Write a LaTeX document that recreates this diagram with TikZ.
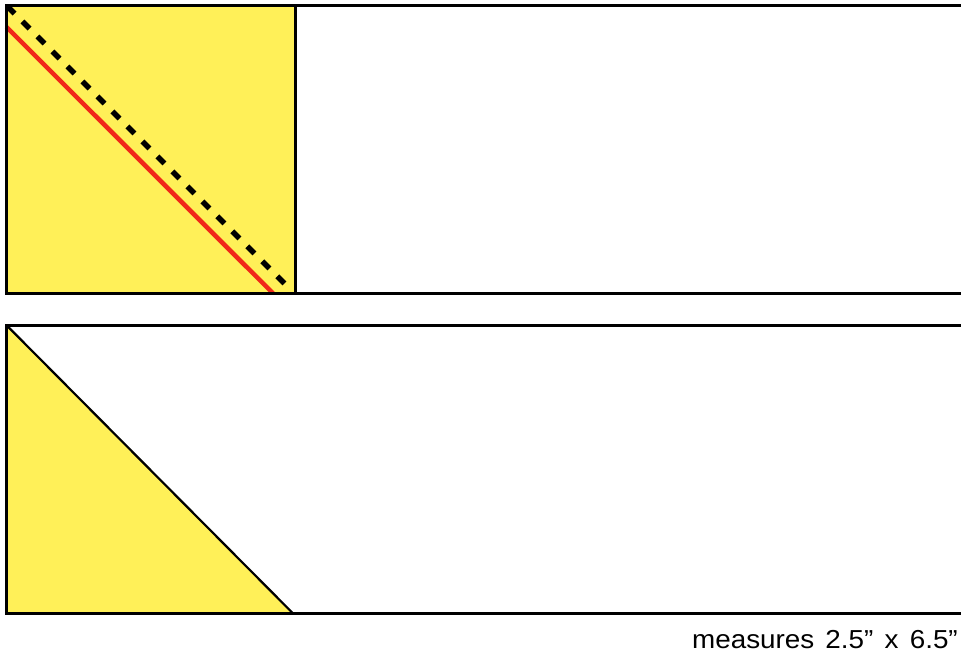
\documentclass[tikz,border=0pt]{standalone}
\usepackage{fontspec}
\setmainfont{Liberation Sans}
\definecolor{fillyellow}{RGB}{255,240,88}
\definecolor{cutred}{RGB}{240,40,25}
\newcommand{\widespaces}{\spaceskip=10.5pt\relax}
\tikzset{
  edge/.style={draw=black, line width=3pt},
  thinedge/.style={draw=black, line width=2.2pt},
  cutline/.style={draw=cutred, line width=4.5pt},
  foldline/.style={draw=black, line width=5.5pt, dash pattern=on 10pt off 11.2pt},
  caption/.style={font=\fontsize{26}{30}\selectfont, inner sep=0pt, anchor=base east, xscale=1.07, transform shape}
}
\begin{document}
\begin{tikzpicture}[x=1pt,y=-1pt]
\useasboundingbox (0,0) rectangle (961,658);
\clip (0,0) rectangle (961,658);
\fill[white] (0,0) rectangle (961,658);
% top strip with square
\coordinate (sqTL) at (6.2,5.5);
\coordinate (sqBR) at (295.5,293.3);
\fill[fillyellow] (sqTL) rectangle (sqBR);
\draw[cutline] (6.5,27) -- (273,293.3);
\draw[foldline] (7.5,6.5) -- (290,289);
\draw[edge] (sqBR) -- (295.5,5.5);
\draw[edge] (980,5.5) -- (sqTL) -- (6.2,293.3) -- (980,293.3);
% bottom strip with triangle
\coordinate (trTop) at (6.8,325.5);
\coordinate (trBL) at (6.8,613.7);
\coordinate (trBR) at (293.3,613.7);
\fill[fillyellow] (trTop) -- (trBL) -- (trBR) -- cycle;
\draw[thinedge] (trTop) -- (trBR);
\draw[edge] (980,325.5) -- (trTop) -- (trBL) -- (980,613.7);
\node[caption] (cap) at (958,648) {\widespaces measures 2.5” x 6.5”};
\end{tikzpicture}
\end{document}
